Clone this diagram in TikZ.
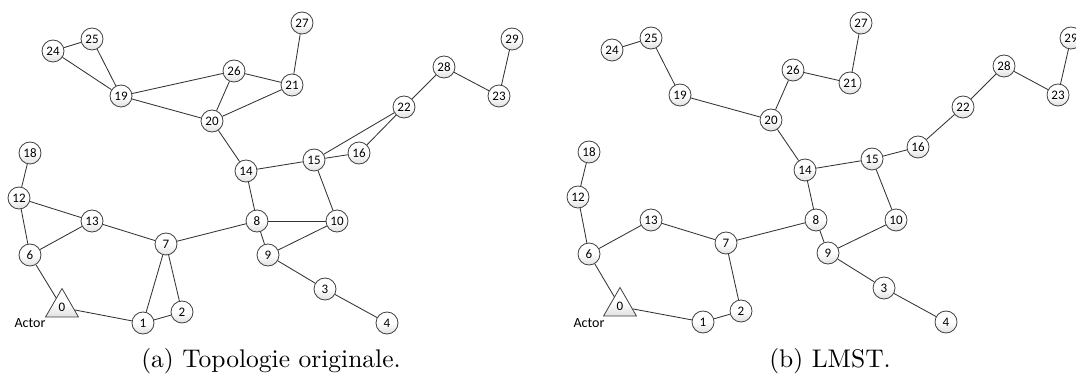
\documentclass[tikz,border=0pt]{standalone}
\usepackage{fontspec}
\newfontfamily\calibri{Carlito}
\newfontfamily\capfont{lmroman10-regular}[Extension=.otf]
\usetikzlibrary{shapes.geometric}
\tikzset{
  nodefill/.style={top color=white, bottom color=black!12, middle color=white},
  vertex/.style={circle, draw=black!75, line width=0.8pt, nodefill,
    minimum size=22pt, inner sep=0pt, font=\calibri\fontsize{13}{14}\selectfont},
  actor/.style={regular polygon, regular polygon sides=3, draw=black!75, line width=0.8pt,
    nodefill, minimum size=38pt, inner sep=0pt,
    font=\calibri\fontsize{13}{14}\selectfont},
  actorlabel/.style={font=\calibri\fontsize{14}{15}\selectfont, inner sep=0pt},
  caption/.style={font=\capfont\fontsize{25.5}{30}\selectfont, anchor=base, inner sep=0pt},
  edge/.style={draw=black!80, line width=0.85pt}
}
\begin{document}
\begin{tikzpicture}[x=1pt, y=-1pt]
\useasboundingbox (0,0) rectangle (1076,374);
% ---------- panel (a) nodes
\foreach \n/\x/\y in {1/143/323, 2/182/312, 3/325/289, 4/387/323, 6/30/255, 7/166/244,
  8/257/221, 9/268/255, 10/337/221, 12/19/198, 13/92/221, 14/246/171, 15/314/160,
  16/359/153, 18/30/153, 19/121/96, 20/212/121, 21/292/85, 22/404/107, 23/499/96,
  24/53/51, 25/92/39, 26/234/71, 27/302/23, 28/444/67, 29/512/39}
  \node[vertex] (a\n) at (\x,\y) {\n};
% ---------- panel (b) nodes
\foreach \n/\x/\y in {1/703/322, 2/741/311, 3/884/288, 4/946/322, 6/589/254, 7/726/243,
  8/816/220, 9/828/253, 10/896/220, 12/578/197, 13/651/220, 14/805/170, 15/872/159,
  16/918/147, 18/589/152, 19/680/95, 20/771/120, 21/850/83, 22/963/107, 23/1058/95,
  24/612/50, 25/651/38, 26/793/70, 27/861/23, 28/1004/66, 29/1071/38}
  \node[vertex] (b\n) at (\x,\y) {\n};
\node[actor] (a0) at (62,307.5) {0};
\node[actor] (b0) at (620,306.5) {0};
\node[actorlabel] (aactor) at (30,323) {Actor};
\node[actorlabel] (bactor) at (589,323) {Actor};

% edges (a)
\foreach \u/\v in {24/25, 24/19, 25/19, 19/26, 19/20, 26/20, 26/21, 20/21, 21/27, 20/14,
  14/15, 15/22, 15/16, 16/22, 22/28, 28/23, 23/29, 15/10, 14/8, 8/10, 8/9, 9/10, 8/7,
  9/3, 3/4, 7/13, 7/1, 7/2, 1/2, 0/1, 0/6, 6/12, 6/13, 12/13, 12/18}
  \draw[edge] (a\u) -- (a\v);
% edges (b)
\foreach \u/\v in {24/25, 25/19, 19/20, 20/26, 26/21, 21/27, 20/14, 14/15, 15/16, 16/22,
  22/28, 28/23, 23/29, 15/10, 14/8, 8/9, 9/10, 8/7, 9/3, 3/4, 7/13, 7/2, 1/2, 0/1, 0/6,
  6/12, 6/13, 12/18}
  \draw[edge] (b\u) -- (b\v);

\node[caption] (capa) at (271,367) {(a) Topologie originale.};
\node[caption] (capb) at (830,367) {(b) LMST.};
\end{tikzpicture}
\end{document}
